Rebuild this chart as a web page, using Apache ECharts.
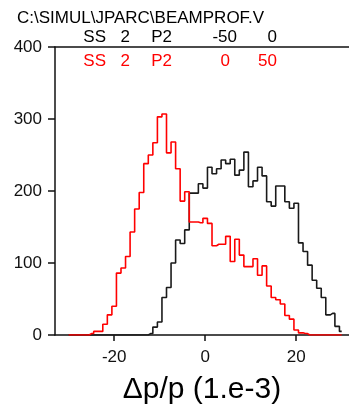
<!DOCTYPE html>
<html>
<head>
<meta charset="utf-8">
<script src="https://cdn.jsdelivr.net/npm/echarts@6/dist/echarts.min.js"></script>
<style>
  html, body { margin: 0; padding: 0; background: #fff; }
  #chart { width: 349px; height: 407px; }
</style>
</head>
<body>
<div id="chart"></div>
<script>
// bin centres (1.e-3)
const centers = [-30, -29, -28, -27, -26, -25, -24, -23, -22, -21, -20, -19, -18, -17, -16, -15,
  -14, -13, -12, -11, -10, -9, -8, -7, -6, -5, -4, -3, -2, -1, 0, 1, 2, 3, 4, 5, 6, 7, 8, 9,
  10, 11, 12, 13, 14, 15, 16, 17, 18, 19, 20, 21, 22, 23, 24, 25, 26, 27, 28, 29, 30];

// red histogram (SS 2 P2 0 50)
const redCounts = [0, 0, 0, 0, 0, 2, 5, 5, 15, 28, 40, 86, 93, 109, 143, 175,
  198, 238, 250, 267, 303, 307, 253, 268, 231, 186, 199, 157, 157, 156, 162, 155, 124, 126, 126, 137, 102, 133, 111, 95,
  95, 106, 83, 96, 68, 52, 49, 43, 27, 22, 7, 3, 2, 0, 0, 0, 0, 0, 0, 0, 0];

// black histogram (SS 2 P2 -50 0)
const blackCounts = [0, 0, 0, 0, 0, 0, 0, 0, 0, 0, 0, 0, 0, 0, 0, 0,
  0, 0, 2, 11, 18, 52, 66, 100, 132, 127, 146, 197, 197, 210, 204, 233, 224, 231, 243, 238, 244, 222, 229, 254,
  206, 214, 233, 221, 185, 179, 207, 207, 185, 176, 183, 128, 116, 97, 76, 65, 52, 28, 30, 12, 5];

const xTicks = [-20, 0, 20];
const title = 'C:\\SIMUL\\JPARC\\BEAMPROF.V';
const blackLabels = ['SS', '2', 'P2', '-50', '0'];
const redLabels = ['SS', '2', 'P2', '0', '50'];

const FONT = '"Liberation Sans", Arial, sans-serif';
const chart = echarts.init(document.getElementById('chart'), null, { renderer: 'canvas' });

// right edges of the header columns
const blackRight = [106, 130, 172, 237, 277];
const redRight = [106, 130, 172, 230, 277];

const graphic = [{
  type: 'text', x: 17, y: 18,
  style: { text: title, font: '17px ' + FONT, fill: '#000', textAlign: 'left', textVerticalAlign: 'middle' }
}];
blackLabels.forEach((t, i) => graphic.push({
  type: 'text', x: blackRight[i], y: 37,
  style: { text: t, font: '17px ' + FONT, fill: '#000', textAlign: 'right', textVerticalAlign: 'middle' }
}));
redLabels.forEach((t, i) => graphic.push({
  type: 'text', x: redRight[i], y: 61,
  style: { text: t, font: '17px ' + FONT, fill: '#ff0000', textAlign: 'right', textVerticalAlign: 'middle' }
}));

const axisLine = { show: true, onZero: false, lineStyle: { color: '#111', width: 1.5 } };

chart.setOption({
  animation: false,
  backgroundColor: '#fff',
  graphic: graphic,
  grid: { left: 55, right: 0, top: 47, bottom: 72, containLabel: false, outerBoundsMode: 'none' },
  xAxis: [{
    type: 'value',
    min: -33,
    max: 31.6,
    position: 'bottom',
    axisLine: axisLine,
    axisTick: { show: true, inside: false, length: 6, customValues: xTicks, lineStyle: { color: '#111', width: 1.5 } },
    axisLabel: { customValues: xTicks, fontSize: 17, fontFamily: FONT, color: '#111', margin: 14 },
    splitLine: { show: false },
    name: 'Δp/p (1.e-3)',
    nameLocation: 'middle',
    nameGap: 40,
    nameTextStyle: { fontSize: 30, fontFamily: FONT, color: '#000' }
  }, {
    type: 'value',
    min: -33,
    max: 31.6,
    position: 'top',
    axisLine: axisLine,
    axisTick: { show: false },
    axisLabel: { show: false },
    splitLine: { show: false }
  }],
  yAxis: {
    type: 'value',
    min: 0,
    max: 400,
    interval: 100,
    position: 'left',
    axisLine: axisLine,
    axisTick: { show: true, inside: false, length: 7, lineStyle: { color: '#111', width: 1.5 } },
    axisLabel: { fontSize: 17, fontFamily: FONT, color: '#111', margin: 13 },
    splitLine: { show: false }
  },
  series: [{
    type: 'line',
    step: 'middle',
    xAxisIndex: 0,
    showSymbol: false,
    data: centers.map((x, i) => [x, blackCounts[i]]),
    lineStyle: { color: '#1a1a1a', width: 1.6 },
    itemStyle: { color: '#1a1a1a' }
  }, {
    type: 'line',
    step: 'middle',
    xAxisIndex: 0,
    showSymbol: false,
    data: centers.map((x, i) => [x, redCounts[i]]),
    lineStyle: { color: '#ff0000', width: 1.6 },
    itemStyle: { color: '#ff0000' }
  }]
});
</script>
</body>
</html>
